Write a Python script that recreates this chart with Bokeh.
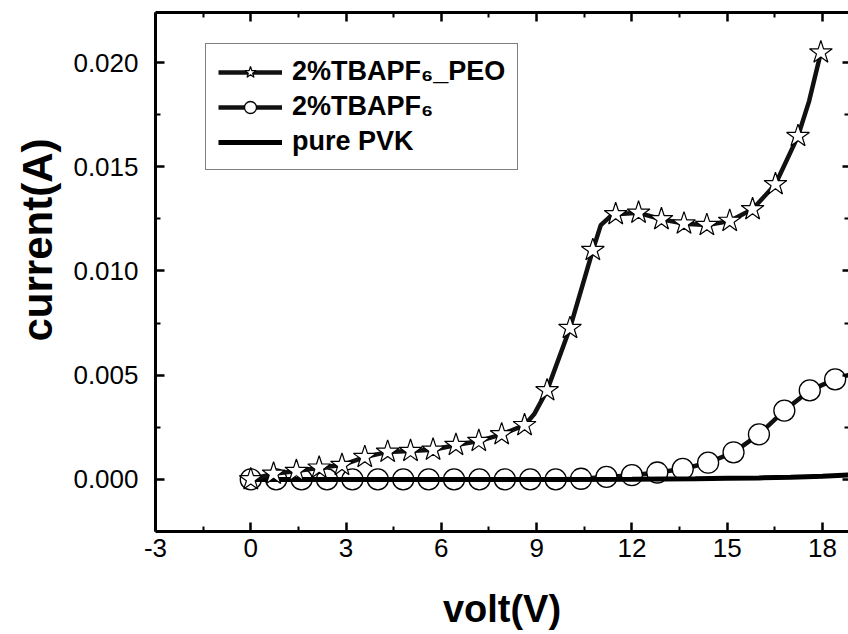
from bokeh.plotting import figure
from bokeh.models import (Range1d, LinearAxis, FixedTicker, Legend, LegendItem, Title,
                          PrintfTickFormatter, CustomJSTickFormatter)
from bokeh.embed import file_html
from bokeh.resources import INLINE

# ---------------- data ----------------
# 2%TBAPF6_PEO : marker points
peo_v = [0.0, 0.718, 1.436, 2.154, 2.872, 3.59, 4.31, 5.03, 5.74, 6.46, 7.18, 7.90, 8.62,
         9.33, 10.05, 10.77, 11.49, 12.21, 12.93, 13.64, 14.36, 15.08, 15.80, 16.52, 17.23, 17.95]
peo_i = [0.0, 0.00027, 0.00040, 0.00056, 0.00069, 0.00107, 0.00132, 0.00136, 0.00142, 0.00165,
         0.00184, 0.00216, 0.00260, 0.00427, 0.00726, 0.01100, 0.01272, 0.01279, 0.01248, 0.01227,
         0.01220, 0.01240, 0.01296, 0.01416, 0.01647, 0.02048]
# extra points read along the PEO curve between markers
peo_curve_v = [8.92, 11.02, 11.33, 17.58]
peo_curve_i = [0.00312, 0.01220, 0.01263, 0.01815]

# 2%TBAPF6
tba_v = [0.0, 0.8, 1.6, 2.4, 3.2, 4.0, 4.8, 5.6, 6.4, 7.2, 8.0, 8.8, 9.6, 10.4, 11.2, 12.0,
         12.8, 13.6, 14.4, 15.2, 16.0, 16.8, 17.6, 18.4, 19.2]
tba_i = [0.0, 0.0, 0.0, 0.0, 0.0, 0.0, 0.0, 0.0, 0.0, 0.0, 0.0, 0.0, 0.0, 0.00003, 0.00012,
         0.00020, 0.00033, 0.00050, 0.00080, 0.00130, 0.00216, 0.00330, 0.00427, 0.00480, 0.00520]

# pure PVK
pvk_v = [0.0, 2.0, 4.0, 6.0, 8.0, 10.0, 12.0, 13.0, 14.0, 15.0, 16.0, 17.0, 18.0, 19.2]
pvk_i = [0.0, 0.0, 0.0, 0.0, 0.0, 0.0, 0.00001, 0.00002, 0.00003, 0.00005, 0.00007, 0.00010,
         0.00015, 0.00024]

x_ticks = [-3, 0, 3, 6, 9, 12, 15, 18]
x_minor = [-1.5, 1.5, 4.5, 7.5, 10.5, 13.5, 16.5]
y_ticks = [0.000, 0.005, 0.010, 0.015, 0.020]
y_minor = [0.0025, 0.0075, 0.0125, 0.0175]

labels = ["2%TBAPF\u2086_PEO", "2%TBAPF\u2086", "pure PVK"]

# merge the curve points of the PEO series (sorted by voltage)
peo_line = sorted(zip(peo_v + peo_curve_v, peo_i + peo_curve_i))
peo_line_v = [a for a, b in peo_line]
peo_line_i = [b for a, b in peo_line]

FONT = "Liberation Sans"

p = figure(width=848, height=634, x_range=Range1d(-3, 18.82), y_range=Range1d(-0.0025, 0.0224),
           output_backend="svg", toolbar_location=None,
           min_border_left=155, min_border_right=0, min_border_top=12, min_border_bottom=103,
           background_fill_color="white", border_fill_color="white")
p.outline_line_color = None
p.grid.visible = False

# top and right axes (ticks only)
p.add_layout(LinearAxis(), "above")
p.add_layout(LinearAxis(), "right")

for ax in p.xaxis:
    ax.ticker = FixedTicker(ticks=x_ticks, minor_ticks=x_minor)
for ax in p.yaxis:
    ax.ticker = FixedTicker(ticks=y_ticks, minor_ticks=y_minor)

for ax in p.axis:
    ax.axis_line_width = 3
    ax.axis_line_color = "black"
    ax.major_tick_line_width = 2.5
    ax.minor_tick_line_width = 2
    ax.major_tick_in = 9
    ax.major_tick_out = 0
    ax.minor_tick_in = 5
    ax.minor_tick_out = 0
    ax.major_label_text_font = FONT
    ax.major_label_text_font_size = "26px"
    ax.major_label_text_color = "black"

bottom = p.below[0]
bottom.formatter = PrintfTickFormatter(format="%d")
bottom.major_label_standoff = 7
bottom.axis_label = "volt(V)"
bottom.axis_label_text_font = FONT
bottom.axis_label_text_font_style = "bold"
bottom.axis_label_text_font_size = "38px"
bottom.axis_label_standoff = 28
bottom.axis_label_text_color = "black"

left = p.left[0]
left.formatter = PrintfTickFormatter(format="%.3f")
left.major_label_standoff = 17

blank = CustomJSTickFormatter(code="return ''")
for ax in (p.above[0], p.right[0]):
    ax.formatter = blank
    ax.major_label_text_font_size = "1px"
    ax.major_label_standoff = 0
p.right[0].axis_line_color = None
p.right[0].major_tick_in = 6
p.right[0].minor_tick_in = 4

# y axis title
ytitle = Title(text="current(A)", align="left", offset=190, standoff=20,
               text_font=FONT, text_font_style="bold", text_font_size="42px",
               text_color="black")
p.add_layout(ytitle, "left")

LW = 4.5
tba_line = p.line(tba_v, tba_i, line_color="#111111", line_width=LW)
tba_pts = p.scatter(tba_v, tba_i, marker="circle", size=21, fill_color="white",
                    line_color="black", line_width=1.3)
pvk_line = p.line(pvk_v, pvk_i, line_color="black", line_width=5)
peo_ln = p.line(peo_line_v, peo_line_i, line_color="#111111", line_width=LW)
peo_pts = p.scatter(peo_v, peo_i, marker="star", size=24, fill_color="white",
                    line_color="black", line_width=1.2)

legend = Legend(items=[LegendItem(label=labels[0], renderers=[peo_ln, peo_pts]),
                       LegendItem(label=labels[1], renderers=[tba_line, tba_pts]),
                       LegendItem(label=labels[2], renderers=[pvk_line])],
                location=(50, 361))
legend.label_text_font = FONT
legend.label_text_font_style = "bold"
legend.label_text_font_size = "27px"
legend.label_text_color = "black"
legend.border_line_color = "black"
legend.border_line_width = 1.2
legend.background_fill_color = "white"
legend.background_fill_alpha = 1
legend.padding = 12
legend.spacing = 4
legend.glyph_width = 64
legend.glyph_height = 30
legend.label_height = 30
legend.label_standoff = 10
legend.margin = 0
p.add_layout(legend)

open("out.html", "w").write(file_html(p, INLINE))
